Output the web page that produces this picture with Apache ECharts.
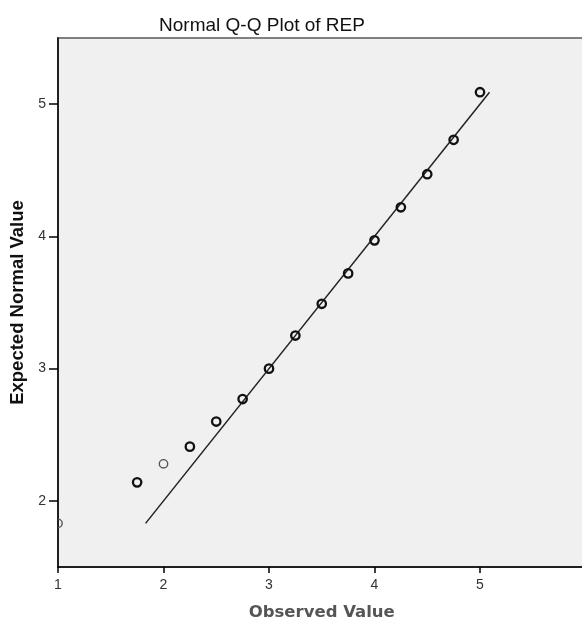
<!DOCTYPE html>
<html>
<head>
<meta charset="utf-8">
<script src="https://cdn.jsdelivr.net/npm/echarts@6/dist/echarts.min.js"></script>
<style>
  html, body { margin: 0; padding: 0; background: #fff; }
  #chart { width: 582px; height: 623px; }
</style>
</head>
<body>
<div id="chart"></div>
<script>
// Observed REP values and their expected normal quantiles
const observed = [1.00, 1.75, 2.00, 2.25, 2.50, 2.75, 3.00, 3.25, 3.50, 3.75, 4.00, 4.25, 4.50, 4.75, 5.00];
const expected = [1.83, 2.14, 2.28, 2.41, 2.60, 2.77, 3.00, 3.25, 3.49, 3.72, 3.97, 4.22, 4.47, 4.73, 5.09];
// Observed values held by a single case (drawn in a lighter tone)
const singleCases = [1.00, 2.00];
// Reference line end points (y = x)
const refLine = [1.83, 5.09];
const xTicks = [1, 2, 3, 4, 5];
const yTicks = [2, 3, 4, 5];

const points = observed.map((v, i) => [v, expected[i], singleCases.includes(v) ? 1 : 0]);

const chart = echarts.init(document.getElementById('chart'), null, { renderer: 'canvas' });

const tickLabel = { fontFamily: 'Liberation Sans, Arial, sans-serif', fontSize: 14, color: '#333' };

chart.setOption({
  animation: false,
  title: {
    text: 'Normal Q-Q Plot of REP',
    left: 257,
    textAlign: 'center',
    top: 11,
    textStyle: { fontFamily: 'Liberation Sans, Arial, sans-serif', fontSize: 19, fontWeight: 'normal', color: '#111' }
  },
  grid: {
    left: 58, top: 38, bottom: 56, right: -3.5,
    outerBoundsMode: 'none',
    containLabel: false,
    show: true, backgroundColor: '#f0f0f0', borderColor: '#808080', borderWidth: 2
  },
  xAxis: {
    type: 'value', min: 1, max: 6,
    name: 'Observed Value', nameLocation: 'middle', nameGap: 37,
    nameTextStyle: { fontFamily: 'DejaVu Sans, Verdana, sans-serif', fontSize: 16.5, fontWeight: 'bold', color: '#555' },
    splitLine: { show: false },
    axisLine: { onZero: false, lineStyle: { color: '#000', width: 1.5 } },
    axisTick: { customValues: xTicks, length: 6, lineStyle: { color: '#000', width: 1.5 } },
    axisLabel: Object.assign({ customValues: xTicks, margin: 11 }, tickLabel)
  },
  yAxis: {
    type: 'value', min: 1.5, max: 5.5,
    name: 'Expected Normal Value', nameLocation: 'middle', nameGap: 31, nameRotate: 90,
    nameTextStyle: { fontFamily: 'Liberation Sans, Arial, sans-serif', fontSize: 18.5, fontWeight: 'bold', color: '#111' },
    splitLine: { show: false },
    axisLine: { onZero: false, lineStyle: { color: '#000', width: 1.5 } },
    axisTick: { customValues: yTicks, length: 9, lineStyle: { color: '#000', width: 1.5 } },
    axisLabel: Object.assign({ customValues: yTicks, margin: 12 }, tickLabel)
  },
  series: [
    {
      type: 'line',
      data: [[refLine[0], refLine[0]], [refLine[1], refLine[1]]],
      symbol: 'none',
      lineStyle: { color: '#222', width: 1.5 },
      z: 2
    },
    {
      type: 'custom',
      clip: true,
      data: points,
      z: 3,
      renderItem: function (params, api) {
        const p = api.coord([api.value(0), api.value(1)]);
        const light = api.value(2) === 1;
        return {
          type: 'circle',
          shape: { cx: p[0], cy: p[1], r: 4.2 },
          style: {
            fill: 'none',
            stroke: light ? '#555' : '#111',
            lineWidth: light ? 1.4 : 2.3
          }
        };
      }
    }
  ]
});
</script>
</body>
</html>
